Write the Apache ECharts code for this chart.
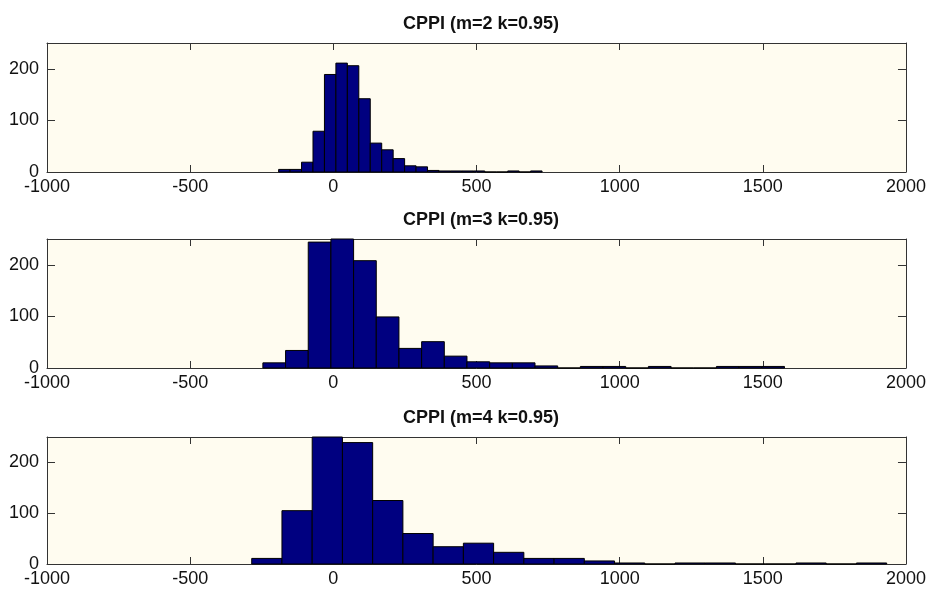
<!DOCTYPE html>
<html>
<head>
<meta charset="utf-8">
<title>CPPI</title>
<script src="https://cdn.jsdelivr.net/npm/echarts@6/dist/echarts.min.js"></script>
<style>
html, body { margin: 0; padding: 0; background: #fff; }
#main { width: 929px; height: 592px; }
</style>
</head>
<body>
<div id="main"></div>
<script>
// histogram counts, one per bin
var titles = ['CPPI (m=2 k=0.95)', 'CPPI (m=3 k=0.95)', 'CPPI (m=4 k=0.95)'];

// m=2 : bins start at -191, width 40
var binStart1 = -191;
var binWidth1 = 40;
var counts1 = [5, 5, 19, 79, 189, 211, 206, 142, 56, 43, 26, 12, 10, 3, 2, 2, 2, 2, 0, 0, 2, 0, 2];

// m=3 : bins start at -246, width 79.2
var binStart2 = -246;
var binWidth2 = 79.2;
var counts2 = [10, 34, 244, 252, 208, 99, 38, 51, 23, 12, 10, 10, 4, 0, 3, 3, 0, 3, 0, 0, 3, 3, 3];

// m=4 : bins start at -285, width 105.6
var binStart3 = -285;
var binWidth3 = 105.6;
var counts3 = [11, 105, 320, 239, 125, 60, 34, 41, 23, 11, 11, 6, 2, 0, 2, 2, 0, 0, 2, 0, 2];

var xTicks = [-1000, -500, 0, 500, 1000, 1500, 2000];
var yTicks = [0, 100, 200];
var yMax = 250;

var gridTops = [43, 239, 437];
var gridHeights = [129, 129, 127];

var myChart;

function buildBins(start, width, counts) {
	var data = [];
	for (var i = 0; i < counts.length; i++) {
		var lo = start + i * width;
		data.push([lo, lo + width, counts[i]]);
	}
	return data;
}

function renderBar(params, api) {
	var p0 = api.coord([api.value(0), api.value(2)]);
	var p1 = api.coord([api.value(1), 0]);
	var rect = echarts.graphic.clipRectByRect({
		x: p0[0],
		y: p0[1],
		width: p1[0] - p0[0],
		height: p1[1] - p0[1]
	}, {
		x: params.coordSys.x,
		y: params.coordSys.y,
		width: params.coordSys.width,
		height: params.coordSys.height
	});
	if (!rect) return;
	return {
		type: 'rect',
		shape: rect,
		style: { fill: '#000080', stroke: '#000', lineWidth: 1 }
	};
}

function plainNum(v) {
	return String(v);
}

function buildOption() {
	var bins = [
		buildBins(binStart1, binWidth1, counts1),
		buildBins(binStart2, binWidth2, counts2),
		buildBins(binStart3, binWidth3, counts3)
	];
	var lineStyle = { color: '#333', width: 1 };
	var font = 'Liberation Sans, Arial, sans-serif';

	var option = {
		backgroundColor: '#ffffff',
		animation: false,
		title: [],
		grid: [],
		xAxis: [],
		yAxis: [],
		series: []
	};

	for (var k = 0; k < 3; k++) {
		option.title.push({
			text: titles[k],
			left: 476,
			textAlign: 'center',
			top: gridTops[k] - 33,
			textStyle: { fontSize: 18, fontWeight: 'bold', color: '#111', fontFamily: font }
		});
		option.grid.push({
			left: 47,
			right: 23,
			top: gridTops[k],
			height: gridHeights[k],
			show: true,
			backgroundColor: '#fffcf0',
			borderWidth: 0
		});
		// bottom axis with labels
		option.xAxis.push({
			type: 'value', gridIndex: k, position: 'bottom',
			min: -1000, max: 2000, interval: 500,
			axisLine: { show: true, onZero: false, lineStyle: lineStyle },
			axisTick: { show: true, inside: true, length: 7, lineStyle: lineStyle },
			axisLabel: { show: true, margin: 6, color: '#111', fontSize: 18, fontFamily: font,
				formatter: plainNum, customValues: xTicks },
			splitLine: { show: false }
		});
		// top axis, ticks only
		option.xAxis.push({
			type: 'value', gridIndex: k, position: 'top',
			min: -1000, max: 2000, interval: 500,
			axisLine: { show: true, onZero: false, lineStyle: lineStyle },
			axisTick: { show: true, inside: true, length: 7, lineStyle: lineStyle },
			axisLabel: { show: false },
			splitLine: { show: false }
		});
		option.yAxis.push({
			type: 'value', gridIndex: k, position: 'left',
			min: 0, max: yMax,
			axisLine: { show: true, onZero: false, lineStyle: lineStyle },
			axisTick: { show: true, inside: true, length: 8, lineStyle: lineStyle, customValues: yTicks },
			axisLabel: { show: true, margin: 8, color: '#111', fontSize: 18, fontFamily: font,
				formatter: plainNum, customValues: yTicks },
			splitLine: { show: false }
		});
		option.yAxis.push({
			type: 'value', gridIndex: k, position: 'right',
			min: 0, max: yMax,
			axisLine: { show: true, onZero: false, lineStyle: lineStyle },
			axisTick: { show: true, inside: true, length: 8, lineStyle: lineStyle, customValues: yTicks },
			axisLabel: { show: false },
			splitLine: { show: false }
		});
		option.series.push({
			name: titles[k],
			type: 'custom',
			xAxisIndex: k * 2,
			yAxisIndex: k * 2,
			renderItem: renderBar,
			encode: { x: [0, 1], y: 2 },
			data: bins[k]
		});
	}
	return option;
}

myChart = echarts.init(document.getElementById('main'));
myChart.setOption(buildOption());
</script>
</body>
</html>
